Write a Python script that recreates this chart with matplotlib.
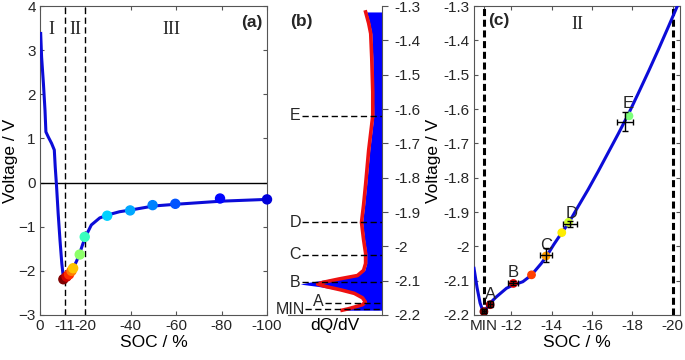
import matplotlib.pyplot as plt
import numpy as np
from matplotlib.transforms import blended_transform_factory

plt.rcParams['font.family'] = ['Liberation Sans', 'DejaVu Sans']
plt.rcParams['font.size'] = 10.5
plt.rcParams['text.color'] = '#262626'
plt.rcParams['axes.edgecolor'] = '#555555'
plt.rcParams['xtick.color'] = '#555555'
plt.rcParams['ytick.color'] = '#555555'
plt.rcParams['xtick.labelcolor'] = '#262626'
plt.rcParams['ytick.labelcolor'] = '#262626'

#---------- (a) voltage vs SOC, whole discharge ----------#
soc_a = [-0.3, -0.7, -1.5, -2.2, -2.6, -3.6, -5.1, -6.3, -6.7, -7.3, -8.0, -8.8, -9.6,
         -10.3, -10.7, -11.7, -12.8, -13.9, -14.6, -16.1, -17.5, -18.8, -20.0, -22.6,
         -26.3, -30.0, -35.0, -40.0, -50.0, -60.0, -80.0, -100.0]
v_a = [3.38, 2.85, 2.25, 1.64, 1.15, 1.04, 0.89, 0.74, 0.36, -0.09, -0.70, -1.30, -1.83,
       -2.16, -2.19, -2.13, -2.08, -2.00, -1.94, -1.78, -1.60, -1.40, -1.23, -0.96,
       -0.80, -0.73, -0.66, -0.62, -0.53, -0.49, -0.42, -0.38]
dots_soc_a = [-10.3, -11.7, -12.8, -13.9, -14.6, -17.5, -19.7, -29.6, -39.7, -49.6, -59.6, -79.3, -100.0]
dots_v_a = [-2.19, -2.13, -2.08, -2.00, -1.94, -1.63, -1.23, -0.75, -0.63, -0.51, -0.48, -0.36, -0.38]
dots_c_a = [1.0, 0.93, 0.86, 0.78, 0.70, 0.52, 0.42, 0.33, 0.29, 0.25, 0.21, 0.13, 0.08]
xticks_a = [0, -11, -20, -40, -60, -80, -100]
regions_a = [(-5, 'I'), (-15.5, 'II'), (-58, 'III')]

#---------- (b) dQ/dV vs voltage ----------#
v_b = [-1.317, -1.35, -1.38, -1.45, -1.55, -1.62, -1.72, -1.82, -1.88, -1.93, -1.98,
       -2.02, -2.05, -2.07, -2.085, -2.095, -2.105, -2.11, -2.117, -2.127, -2.137,
       -2.15, -2.162, -2.17, -2.177, -2.182, -2.186]
dqdv_smooth = [0.16, 0.13, 0.11, 0.10, 0.09, 0.09, 0.13, 0.16, 0.18, 0.20, 0.18,
               0.16, 0.16, 0.18, 0.24, 0.42, 0.58, 0.63, 0.55, 0.40, 0.27,
               0.19, 0.163, 0.19, 0.27, 0.33, 0.39]
dqdv_raw = [0.15, 0.12, 0.10, 0.09, 0.085, 0.08, 0.12, 0.15, 0.17, 0.19, 0.17,
            0.15, 0.15, 0.17, 0.26, 0.50, 0.72, 0.80, 0.62, 0.42, 0.27,
            0.18, 0.15, 0.18, 0.26, 0.32, 0.38]
marks_b = [('E', -1.62, 0.15), ('D', -1.93, 0.15), ('C', -2.025, 0.15),
           ('B', -2.105, 0.15), ('A', -2.165, 0.39), ('MIN', -2.183, 0.18)]

#---------- (c) zoom on region II ----------#
soc_c = [-10.15, -10.3, -10.45, -10.55, -10.64, -10.8, -10.93, -11.26, -11.76, -12.08,
         -12.57, -12.99, -13.48, -13.73, -14.1, -14.5, -14.83, -15.3, -15.8, -16.3,
         -16.8, -17.3, -17.8, -18.3, -18.8, -19.3, -19.8, -20.3]
v_c = [-2.064, -2.12, -2.165, -2.182, -2.19, -2.178, -2.166, -2.147, -2.122, -2.113,
       -2.103, -2.084, -2.05, -2.03, -1.995, -1.96, -1.933, -1.885, -1.835, -1.782,
       -1.727, -1.672, -1.615, -1.553, -1.49, -1.425, -1.358, -1.29]
dots_soc_c = [-10.64, -10.95, -12.1, -13.0, -13.72, -14.5, -14.83, -17.83]
dots_v_c = [-2.19, -2.17, -2.108, -2.083, -2.028, -1.96, -1.93, -1.62]
dots_c_c = [1.0, 0.96, 0.91, 0.84, 0.74, 0.66, 0.60, 0.50]
err_soc = [-10.64, -10.95, -12.1, -13.72, -14.9, -17.65]
err_v = [-2.188, -2.168, -2.108, -2.025, -1.935, -1.637]
err_x = [0.1, 0.12, 0.25, 0.3, 0.35, 0.4]
err_y = [0.005, 0.008, 0.006, 0.02, 0.01, 0.028]
lab_c = [('A', -10.95, -2.14), ('B', -12.08, -2.077), ('C', -13.73, -1.998),
         ('D', -14.97, -1.905), ('E', -17.78, -1.585)]
xticks_c = [-10.64, -12, -14, -16, -18, -20]
xticklabels_c = ['MIN', '-12', '-14', '-16', '-18', '-20']

blue = '#0c0cd8'
fmt = lambda v, p: '%g' % round(v, 2)

fig = plt.figure(figsize=(6.85, 3.6), dpi=100)

# ---- (a)
ax = fig.add_axes([0.0584, 0.125, 0.3314, 0.858])
ax.axhline(0, color='black', lw=1)
ax.axvline(-11, color='black', lw=1, ls=(0, (4.5, 2.5)))
ax.axvline(-20, color='black', lw=1, ls=(0, (4.5, 2.5)))
ax.plot(soc_a, v_a, color=blue, lw=2.2, zorder=3)
ax.scatter(dots_soc_a, dots_v_a, c=plt.cm.jet(dots_c_a), s=42, zorder=4, clip_on=False)
ax.set_xlim(0, -100)
ax.set_ylim(-3, 4)
ax.set_xticks(xticks_a)
ax.set_xticklabels([str(t) for t in xticks_a])
ax.set_yticks(range(-3, 5))
ax.tick_params(direction='in', top=True, right=True, length=3, labelsize=11, pad=3)
ax.set_xlabel('SOC / %', fontsize=12.5, labelpad=1)
ax.set_ylabel('Voltage / V', fontsize=12.5, labelpad=0)
for x, t in regions_a:
    ax.text(x, 3.48, t, family='Liberation Serif', fontsize=13, ha='center', va='center')
ax.text(0.978, 0.972, '(a)', transform=ax.transAxes, fontweight='bold', fontsize=12.5,
        ha='right', va='top')

# ---- (b)
bx = fig.add_axes([0.4204, 0.125, 0.1372, 0.858])
bx.fill_betweenx(v_b, 0, dqdv_raw, color='#0000ff', lw=0)
bx.plot(dqdv_smooth, v_b, color='#ee1111', lw=2.6)
tr = blended_transform_factory(bx.transAxes, bx.transData)
for lab, v, x0 in marks_b:
    bx.plot([x0, 1.0], [v, v], color='black', lw=1, ls=(0, (4.5, 2.5)), transform=tr, clip_on=False)
    if lab == 'A':
        bx.text(0.32, v + 0.004, lab, transform=tr, ha='center', va='center', fontsize=11.5)
    elif lab == 'MIN':
        bx.text(0.18, v, lab, transform=tr, ha='right', va='center', fontsize=11.5)
    else:
        bx.text(0.075, v, lab, transform=tr, ha='center', va='center', fontsize=11.5)
bx.set_xlim(0.92, 0)
bx.set_ylim(-2.2, -1.3)
bx.set_yticks(np.arange(-2.2, -1.25, 0.1))
bx.yaxis.set_major_formatter(plt.FuncFormatter(fmt))
bx.yaxis.tick_right()
bx.tick_params(axis='y', direction='out', length=4, labelsize=11, pad=5)
bx.set_xticks([])
bx.spines['top'].set_visible(False)
bx.spines['left'].set_visible(False)
bx.set_xlabel('dQ/dV', fontsize=12.5, labelpad=2)
bx.text(0.02, 0.975, '(b)', transform=bx.transAxes, fontweight='bold', fontsize=12.5,
        ha='left', va='top')

# ---- (c)
cx = fig.add_axes([0.692, 0.125, 0.3007, 0.858])
cx.axvline(-10.64, color='black', lw=2.2, ls=(0, (2.3, 1.2)))
cx.axvline(-20, color='black', lw=2.2, ls=(0, (2.3, 1.2)))
cx.plot(soc_c, v_c, color=blue, lw=2.2, zorder=3)
cx.scatter(dots_soc_c, dots_v_c, c=plt.cm.jet(dots_c_c), s=28, zorder=4)
cx.errorbar(err_soc, err_v, xerr=err_x, yerr=err_y, fmt='none', ecolor='black',
            elinewidth=1, capsize=2.5, capthick=1, zorder=5)
for lab, x, y in lab_c:
    cx.text(x, y, lab, ha='center', va='center', fontsize=12)
cx.set_xlim(-10.15, -20.36)
cx.set_ylim(-2.2, -1.3)
cx.set_xticks(xticks_c)
cx.set_xticklabels(xticklabels_c)
cx.set_yticks(np.arange(-2.2, -1.25, 0.1))
cx.yaxis.set_major_formatter(plt.FuncFormatter(fmt))
cx.tick_params(direction='in', top=True, right=True, length=3, labelsize=11, pad=3)
cx.set_xlabel('SOC / %', fontsize=12.5, labelpad=1)
cx.set_ylabel('Voltage / V', fontsize=12.5, labelpad=2)
cx.text(-15.28, -1.355, 'II', family='Liberation Serif', fontsize=13, ha='center', va='center')
cx.text(0.068, 0.978, '(c)', transform=cx.transAxes, fontweight='bold', fontsize=12.5,
        ha='left', va='top')

fig.savefig('out.png', dpi=100)
